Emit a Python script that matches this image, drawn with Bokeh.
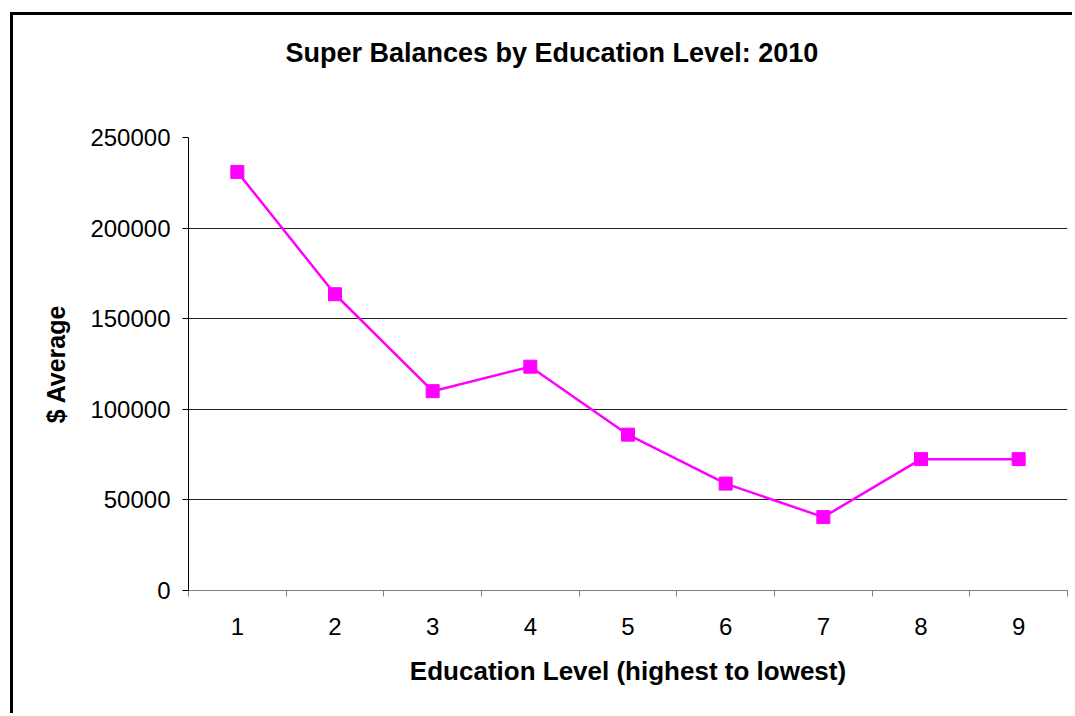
from bokeh.plotting import figure
from bokeh.models import Range1d, FixedTicker, BasicTickFormatter, Title
from bokeh.embed import file_html
from bokeh.resources import INLINE

# Super balances by education level, 2010
levels = [1, 2, 3, 4, 5, 6, 7, 8, 9]
avg_balance = [231000, 163500, 110000, 123500, 86000, 59000, 40500, 72500, 72500]
y_ticks = [0, 50000, 100000, 150000, 200000, 250000]
chart_title = "Super Balances by Education Level: 2010"

p = figure(
    width=1062, height=701,
    x_range=Range1d(0.5, 9.5), y_range=Range1d(0, 250000),
    output_backend="svg", toolbar_location=None,
    min_border_left=175, min_border_right=8,
    min_border_top=122, min_border_bottom=126,
)
p.styles = {"border-left": "3px solid black", "border-top": "3px solid black",
            "margin-left": "10px", "margin-top": "12px"}
p.outline_line_color = None
p.background_fill_color = "white"
p.border_fill_color = "white"

# empty title as spacer, so the real title sits high above the plot area
p.add_layout(Title(text=" ", text_font_size="10px", standoff=57), "above")
p.add_layout(Title(text=chart_title, align="left", offset=97, standoff=0,
                   text_font="Liberation Sans", text_font_size="27px",
                   text_font_style="bold", text_color="black"), "above")

p.line(levels, avg_balance, line_color="#FF00FF", line_width=2.5)
p.scatter(levels, avg_balance, marker="square", size=13,
          fill_color="#FF00FF", line_color="#FF00FF")

# x axis: labels on categories, ticks between them
xa = p.xaxis[0]
xa.ticker = FixedTicker(ticks=levels, minor_ticks=[v - 0.5 for v in levels] + [levels[-1] + 0.5])
xa.major_tick_out = 0
xa.major_tick_in = 0
xa.minor_tick_out = 6
xa.minor_tick_in = 0
xa.minor_tick_line_color = "#808080"
xa.axis_line_color = "#808080"
xa.major_label_standoff = 21
xa.major_label_text_font = "Liberation Sans"
xa.major_label_text_font_size = "24px"
xa.major_label_text_color = "black"
xa.axis_label = "Education Level (highest to lowest)"
xa.axis_label_standoff = 18
xa.axis_label_text_font = "Liberation Sans"
xa.axis_label_text_font_size = "26px"
xa.axis_label_text_font_style = "bold"
xa.axis_label_text_color = "black"

ya = p.yaxis[0]
ya.ticker = FixedTicker(ticks=y_ticks, minor_ticks=[])
ya.formatter = BasicTickFormatter(use_scientific=False)
ya.major_tick_out = 6
ya.major_tick_in = 0
ya.major_tick_line_color = "black"
ya.axis_line_color = "black"
ya.major_label_standoff = 12
ya.major_label_text_font = "Liberation Sans"
ya.major_label_text_font_size = "24px"
ya.major_label_text_color = "black"
ya.axis_label = "$ Average"
ya.axis_label_standoff = 17
ya.axis_label_text_font = "Liberation Sans"
ya.axis_label_text_font_size = "25px"
ya.axis_label_text_font_style = "bold"
ya.axis_label_text_color = "black"

p.xgrid.grid_line_color = None
p.ygrid.ticker = FixedTicker(ticks=y_ticks)
p.ygrid.grid_line_color = "#222222"
p.ygrid.grid_line_width = 1

open("out.html", "w").write(file_html(p, INLINE))
